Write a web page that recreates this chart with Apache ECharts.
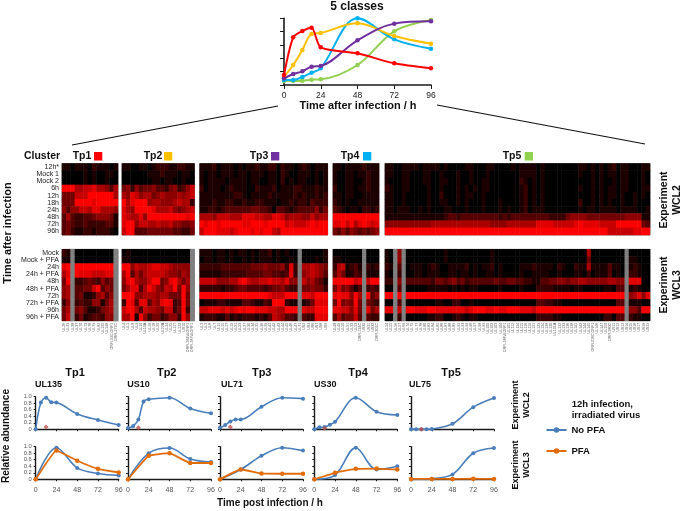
<!DOCTYPE html>
<html><head><meta charset="utf-8">
<style>html,body{margin:0;padding:0;background:#fff}#c{width:685px;height:511px}</style>
<script src="https://cdn.jsdelivr.net/npm/echarts@6/dist/echarts.min.js"></script>
</head><body><div id="c"></div>
<script>
// ---------- Class-average profile chart ----------
const classTimes = [0, 6, 12, 18, 24, 48, 72, 96];
const classTp1 = [.15, .715, .81, .86, .565, .475, .325, .25];
const classTp2 = [.125, .3, .525, .765, .78, .925, .735, .62];
const classTp3 = [.1, .165, .205, .275, .285, .67, .92, .955];
const classTp4 = [.075, .075, .12, .185, .25, 1, .685, .545];
const classTp5 = [.06, .06, .065, .08, .085, .3, .805, .975];

// ---------- Heatmap labels ----------
const rowsWCL2 = ['12h*','Mock 1','Mock 2','6h','12h','18h','24h','48h','72h','96h'];
const rowsWCL3 = ['Mock','Mock + PFA','24h','24h + PFA','48h','48h + PFA','72h','72h + PFA','96h','96h + PFA'];
const genesTp1 = ['UL26','UL33','UL38','UL37','UL70','UL73','UL76','UL79','UL82','UL135','UL148','ORFL93C.ORF1','ORFL272C'];
const genesTp2 = ['UL4','UL5','UL8','UL9','UL10','UL14A','UL16','UL18','UL20','UL22A','UL24','UL25','UL117','UL122','US10','ORFL264W.ORF1','ORFL367W.ORF1'];
const genesTp3 = ['UL2','UL3','UL6','UL7','UL11','UL15','UL17','UL19','UL21','UL23','UL27','UL30','UL34','UL35','UL36','UL39','UL41','UL42','UL43','UL44','UL45','UL46','UL47','UL71','US2','US3','US6','US7','US8','US9'];
const genesTp4 = ['UL48','UL49','UL50','UL51','UL52','UL53','ORFL124C','US30','US31','US32','ORFL301C'];
const genesTp5 = ['UL54','UL55','UL56','UL57','UL69','UL74','UL75','UL77','UL78','UL80','UL83','UL84','UL85','UL86','UL87','UL88','UL89','UL92','UL93','UL94','UL96','UL97','UL98','UL99','UL100','UL102','UL103','UL104','ORFL186W.ORF1','UL105','UL112','UL114','UL115','UL116','UL119','UL121','UL123','UL124','UL128','UL130','UL131A','UL132','UL133','UL136','UL138','UL141','UL142','UL144','UL145','ORFL216C.ORF1','UL146','UL147','UL150','ORFL280C','US11','US12','US13','US14','US15','US16','US17','US18','US19'];

// ---------- Heatmap intensities, 0 (black) to 9 (red), x = not detected ----------
const tp1WCL2 = ['1101110211101','0000010100110','0000010100100','9996677866536','4447779999996','4449999899999','5355776886665','3632233455541','3432232222331','3421122122210'];
const tp2WCL2 = ['11001101222112211','00000011121110110','00000001101100100','45253445332452357','65875664565556567','96899956655567662','86599998666754567','87668599999999989','89957766766755445','79933344444433224'];
const tp3WCL2 = [
 '1112011101 0112112202 1101210111','1011011101 1011101102 1001110101','1011110111 1011001102 0101100101',
 '2011101211 1002111201 1122111211','1111111122 1011112111 1121211212','1112112211 2112211101 1212213222',
 '1122123333 3344332033 2123333524','6665777666 8887766887 5666557566','9899899999 8899989999 7877789899','7999888789 9989899769 9999999999'];
const tp4WCL2 = ['11011112111','10011011211','10011001211','20011011211','11011001111','21010011111','32101102212','99999999999','88979689878','43535434345'];
const tp5WCL2 = [
 '1100111101 1110100001 1000110000 1011110100 0000001101 0101201100 011',
 '1100110001 1001000100 1000100000 0011110100 0000001001 0101101100 010',
 '1000110001 1001100100 1001100000 0021010100 0000000001 0100101100 010',
 '2100110000 1001000101 0101100000 0012010100 0000001001 0101101100 011',
 '1100100000 1002000101 1001000000 0012010100 0000000001 0101101001 010',
 '1100100000 1001100101 0001000100 0012010100 0000002001 0101001001 000',
 '1101110010 1000110001 0001000101 0012011100 0000001011 0111101111 001',
 '1111111111 1111233233 3333333232 3333333332 2224555544 4444444555 511',
 '5555555555 5666666666 6666655556 6666668888 7777789888 8777799999 943',
 '9999999999 9999999999 9999999999 9999999999 9999999999 9997777778 899'];
const tp1WCL3 = ['21x000000000x','11x000000000x','89x999999999x','68x988877788x','49x223432534x','56x334479354x','56x341125635x','25x232255146x','46x453112456x','47x241233255x'];
const tp2WCL3 = ['0100000000000000x','1100000000000000x','9957667887765555x','6936467777655465x','5896557994589646x','4688369754769495x','9995566656644494x','2983883658982394x','7996376654772492x','6691952442355295x'];
const tp3WCL3 = [
 '1110110101 1010112010 100x000001','0110110100 1010111010 010x000101',
 '2222233333 3344454445 282x667654','1111122222 2333344332 382x567653',
 '7777555668 9766778776 855x756431','2222212234 4333323445 322x445442',
 '9999999999 9999998777 999x887999','0111221111 3321132999 211x124888',
 '7788878789 8998887766 999x877999','1222113121 2221213765 332x322888'];
const tp4WCL3 = ['0000000x000','1100000x000','2671231x212','3641132x111','9999978x799','4745313x232','8988596x935','4945494x432','8877584x846','3634473x322'];
const tp5WCL3 = [
 '10x5x00000 0000100000 0000010000 0000000000 0000000060 0000000x00 000',
 '10x5x00000 0000100000 0000010000 0000000000 0000000040 0000000x11 000',
 '21x3x01110 1210011112 0101120100 0011121111 0210021161 1113110x12 100',
 '10x2x00110 1110011011 0100110100 0010011110 0100011020 1113010x22 100',
 '22x5x33333 3244345342 3333334334 4332211334 4554556655 5556655x88 800',
 '00x3x00000 1111101010 1100000100 0010002222 1111011000 0011033x12 100',
 '99x9x99999 9999999999 9999999999 9999999999 9999999999 9999999x56 858',
 '00x3x00000 0011002200 1000000000 0000003322 1100000000 0000033x11 100',
 '88x7x99888 9988888887 8999889889 9988879999 9999999999 9999999x55 399',
 '00x2x00000 1122001210 1100000000 0000002222 1100000000 0022033x21 100'];

// ---------- Single-gene profiles ----------
const denseTimes = [0, 6, 12, 18, 24, 48, 72, 96];
const sparseTimes = [0, 24, 48, 72, 96];
const ul135NoPfaW2 = [0, .82, .97, .83, .82, .47, .285, .13];
const us10NoPfaW2  = [.04, .1, .3, .85, .92, .97, .64, .49];
const ul71NoPfaW2  = [.05, .13, .24, .3, .3, .69, .97, .94];
const us30NoPfaW2  = [0, .06, .07, .14, .23, .97, .54, .44];
const ul75NoPfaW2  = [0, 0, 0, 0, .01, .17, .68, .96];
const irradiatedAt12h = [.07, .05, .07, .03, 0];
const ul135NoPfaW3 = [0, .97, .35, .18, .12];
const ul135PfaW3   = [0, .88, .57, .32, .21];
const us10NoPfaW3  = [0, .8, .96, .62, .53];
const us10PfaW3    = [0, .72, .8, .5, .5];
const ul71NoPfaW3  = [0, .3, .72, .97, .88];
const ul71PfaW3    = [0, .3, .18, .17, .17];
const us30NoPfaW3  = [0, .13, .97, .3, .4];
const us30PfaW3    = [0, .2, .32, .33, .3];
const ul75NoPfaW3  = [0, .02, .15, .8, .96];
const ul75PfaW3    = [.01, .01, .01, .02, .01];

const FONT = '"Liberation Sans", Arial, sans-serif';
const BLUE = '#4a7ebb', ORANGE = '#e36c0a', DARK = '#1a1a1a';

const grid = [], xAxis = [], yAxis = [], series = [], heatIdx = [];
function addGrid(l, t, w, h, extra) {
  grid.push(Object.assign({left: l, top: t, width: w, height: h, containLabel: false}, extra || {}));
  return grid.length - 1;
}
function heat(l, t, w, rows, genes, rowNames, showRows, showGenes) {
  const i = addGrid(l, t, w, 71.5, {show: true, borderColor: '#8a8a8a', borderWidth: 1, backgroundColor: 'transparent'});
  xAxis.push({type: 'category', gridIndex: i, data: genes, axisLine: {show: false}, axisTick: {show: false}, splitLine: {show: false},
    axisLabel: {show: showGenes, interval: 0, rotate: 90, fontSize: 3.6, color: '#555', margin: 2, fontFamily: FONT}});
  yAxis.push({type: 'category', gridIndex: i, data: rowNames, inverse: true, axisLine: {show: false}, axisTick: {show: false}, splitLine: {show: false},
    axisLabel: {show: showRows, interval: 0, fontSize: 7, color: '#222', margin: 3, fontFamily: FONT}});
  const data = [];
  rows.forEach((r, y) => {
    r.replace(/ /g, '').split('').forEach((ch, x) => data.push([x, y, ch === 'x' ? -1 : +ch]));
  });
  heatIdx.push(series.length);
  series.push({type: 'heatmap', xAxisIndex: i, yAxisIndex: i, data, itemStyle: {borderWidth: 0}, emphasis: {disabled: true}, progressive: 0, animation: false});
}
heat(62, 163.5, 56, tp1WCL2, genesTp1, rowsWCL2, true, false);
heat(122, 163.5, 72.5, tp2WCL2, genesTp2, rowsWCL2, false, false);
heat(199.7, 163.5, 128, tp3WCL2, genesTp3, rowsWCL2, false, false);
heat(333, 163.5, 46, tp4WCL2, genesTp4, rowsWCL2, false, false);
heat(385, 163.5, 265, tp5WCL2, genesTp5, rowsWCL2, false, false);
heat(62, 249.3, 56, tp1WCL3, genesTp1, rowsWCL3, true, true);
heat(122, 249.3, 72.5, tp2WCL3, genesTp2, rowsWCL3, false, true);
heat(199.7, 249.3, 128, tp3WCL3, genesTp3, rowsWCL3, false, true);
heat(333, 249.3, 46, tp4WCL3, genesTp4, rowsWCL3, false, true);
heat(385, 249.3, 265, tp5WCL3, genesTp5, rowsWCL3, false, true);

function zip(xs, ys) { return xs.map((x, i) => [x, ys[i]]); }
function axes(i, opt) {
  xAxis.push({type: 'value', gridIndex: i, min: 0, max: 96, interval: 24, splitLine: {show: false},
    axisLine: {lineStyle: {color: DARK, width: opt.axisW}, onZero: false}, axisTick: {length: opt.tick, lineStyle: {color: DARK, width: 1}},
    axisLabel: {show: opt.xLabels, fontSize: opt.xFont, color: opt.xColor, margin: opt.xMargin, fontFamily: FONT, hideOverlap: false,
      showMinLabel: true, showMaxLabel: true}});
  yAxis.push({type: 'value', gridIndex: i, min: 0, max: 1, interval: .2, splitLine: {show: false},
    axisLine: {show: true, lineStyle: {color: DARK, width: opt.axisW}}, axisTick: {show: true, length: opt.tick, lineStyle: {color: DARK, width: 1}},
    axisLabel: {show: opt.yLabels, fontSize: 5.8, color: '#555', margin: 4, fontFamily: FONT, hideOverlap: false,
      formatter: v => (v === 0 ? '0' : v.toFixed(1)), showMinLabel: true, showMaxLabel: true}});
}
function line(i, name, color, xs, ys, w, size, smooth) {
  series.push({type: 'line', name, xAxisIndex: i, yAxisIndex: i, data: zip(xs, ys), smooth, animation: false, clip: false,
    symbol: 'circle', symbolSize: size, lineStyle: {color, width: w}, itemStyle: {color}, emphasis: {disabled: true}});
}
// top class chart
const top0 = addGrid(284, 18.3, 147, 66.7);
axes(top0, {axisW: 1.6, tick: 4, xLabels: true, xFont: 8.5, xColor: '#222', xMargin: 6, yLabels: false});
line(top0, 'Tp5', '#92d050', classTimes, classTp5, 2, 4.5, .35);
line(top0, 'Tp4', '#00b0f0', classTimes, classTp4, 2, 4.5, .35);
line(top0, 'Tp2', '#ffc000', classTimes, classTp2, 2, 4.5, .35);
line(top0, 'Tp3', '#7030a0', classTimes, classTp3, 2, 4.5, .35);
line(top0, 'Tp1', '#ff0000', classTimes, classTp1, 2, 4.5, .25);

const colLeft = [35.7, 128, 220, 314.3, 411];
const W = 83;
const noPfaTop = [ul135NoPfaW2, us10NoPfaW2, ul71NoPfaW2, us30NoPfaW2, ul75NoPfaW2];
const noPfaBot = [ul135NoPfaW3, us10NoPfaW3, ul71NoPfaW3, us30NoPfaW3, ul75NoPfaW3];
const pfaBot = [ul135PfaW3, us10PfaW3, ul71PfaW3, us30PfaW3, ul75PfaW3];
colLeft.forEach((l, c) => {
  const a = addGrid(l, 396.7, W, 32.6);
  axes(a, {axisW: 1.4, tick: 2, xLabels: false, xFont: 7, xColor: '#555', xMargin: 3, yLabels: c === 0});
  line(a, 'No PFA', BLUE, denseTimes, noPfaTop[c], 1.6, 4, .35);
  series.push({type: 'scatter', xAxisIndex: a, yAxisIndex: a, data: [[12, irradiatedAt12h[c]]], symbol: 'diamond', symbolSize: 5,
    itemStyle: {color: '#c0504d'}, animation: false, z: 5, clip: false});
  const b = addGrid(l, 446.7, W, 32.6);
  axes(b, {axisW: 1.4, tick: 2, xLabels: true, xFont: 7, xColor: '#555', xMargin: 7, yLabels: c === 0});
  line(b, 'No PFA', BLUE, sparseTimes, noPfaBot[c], 1.6, 4, .35);
  line(b, 'PFA', ORANGE, sparseTimes, pfaBot[c], 1.8, 4.5, .1);
});

// ---------- text and annotation ----------
function T(text, x, y, size, o) {
  o = o || {};
  return {type: 'text', x, y, rotation: o.rot ? Math.PI / 2 : 0, silent: true, z: 10,
    style: {text, fontSize: size, fontWeight: o.normal ? 'normal' : 'bold', fontFamily: FONT, fill: o.fill || '#111',
      textAlign: o.align || 'center', textVerticalAlign: 'middle'}};
}
function sq(x, color) { return {type: 'rect', shape: {x, y: 152, width: 8.3, height: 8.5}, style: {fill: color}, silent: true}; }
function ln(x1, y1, x2, y2) { return {type: 'line', shape: {x1, y1, x2, y2}, style: {stroke: '#111', lineWidth: 1.2}, silent: true}; }
const graphic = [
  T('5 classes', 357, 7, 12),
  T('Time after infection / h', 358, 106, 11),
  ln(72, 145, 278, 106), ln(437, 105, 645, 144),
  T('Cluster', 42, 156, 10.5),
  T('Tp1', 82, 156, 10.5), sq(94, '#ff0000'),
  T('Tp2', 153, 156, 10.5), sq(164, '#ffc000'),
  T('Tp3', 259, 156, 10.5), sq(271, '#7030a0'),
  T('Tp4', 350, 156, 10.5), sq(363, '#00b0f0'),
  T('Tp5', 512, 156, 10.5), sq(524.7, '#92d050'),
  T('Time after infection', 8, 233, 11, {rot: true}),
  T('Experiment', 664, 200, 10.5, {rot: true}), T('WCL2', 677, 200, 10.5, {rot: true}),
  T('Experiment', 664, 285, 10.5, {rot: true}), T('WCL3', 677, 285, 10.5, {rot: true}),
  T('Tp1', 75, 373, 11), T('Tp2', 166.7, 373, 11), T('Tp3', 261.7, 373, 11), T('Tp4', 358, 373, 11), T('Tp5', 451, 373, 11),
  T('UL135', 35, 384.5, 9, {align: 'left'}), T('US10', 127.3, 384.5, 9, {align: 'left'}), T('UL71', 221, 384.5, 9, {align: 'left'}),
  T('US30', 314, 384.5, 9, {align: 'left'}), T('UL75', 409, 384.5, 9, {align: 'left'}),
  T('Relative abundance', 6, 436, 10, {rot: true}),
  T('Time post infection / h', 270, 503, 10),
  T('Experiment', 516, 405, 9, {rot: true, normal: false}), T('WCL2', 527, 405, 9, {rot: true}),
  T('Experiment', 516, 465, 9, {rot: true}), T('WCL3', 527, 465, 9, {rot: true}),
  T('12h infection,', 571.7, 404, 9.5, {align: 'left'}), T('irradiated virus', 571.7, 415.5, 9.5, {align: 'left'})
];

const shadePieces = [{value: -1, color: '#808080'}];
const shadeReds = ['#000000','#1c0000','#390000','#550000','#710000','#8e0000','#aa0000','#c60000','#e30000','#ff0000'];
shadeReds.forEach((color, value) => shadePieces.push({value, color}));

const chart = echarts.init(document.getElementById('c'), null, {renderer: 'canvas'});
chart.setOption({
  animation: false,
  backgroundColor: '#fff',
  grid, xAxis, yAxis, series, graphic,
  tooltip: {show: false},
  legend: {show: true, data: ['No PFA', 'PFA'], orient: 'vertical', left: 540.5, top: 420, itemWidth: 20, itemHeight: 7, itemGap: 11,
    selectedMode: false, textStyle: {fontSize: 9.5, fontWeight: 'bold', color: '#111', fontFamily: FONT}},
  visualMap: {type: 'piecewise', show: false, dimension: 2, seriesIndex: heatIdx, pieces: shadePieces}
});
</script></body></html>
